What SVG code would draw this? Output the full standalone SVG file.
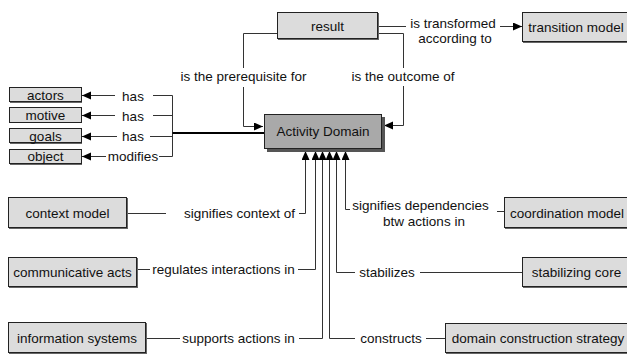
<svg xmlns="http://www.w3.org/2000/svg" width="627" height="354" viewBox="0 0 627 354">
  <style>
    .box { fill: #dcdcdc; stroke: #222; stroke-width: 1; }
    .shadow { fill: #666; }
    .core { fill: #a9a9a9; stroke: #222; stroke-width: 1; }
    .coreShadow { fill: #555; }
    text { font-family: "Liberation Sans", Arial, sans-serif; font-size: 13.5px; fill: #111; }
    .mid { text-anchor: middle; }
    .ln { fill: none; stroke: #333; stroke-width: 1; }
    .arr { fill: none; stroke: #333; stroke-width: 1; marker-end: url(#tip); }
    .bold { fill: none; stroke: #000; stroke-width: 2; }
  </style>
  <defs>
    <marker id="tip" markerUnits="userSpaceOnUse" markerWidth="10" markerHeight="10" refX="9" refY="4" orient="auto">
      <path d="M0,0 L9,4 L0,8 Z" fill="#000"/>
    </marker>
  </defs>
  <rect width="627" height="354" fill="#fff"/>

  <!-- connectors -->
  <g id="connectors">
    <!-- result -> transition model -->
    <path class="ln" d="M378.5,26.5 H406"/>
    <path class="arr" d="M500,26.5 H522"/>
    <!-- result -> Activity Domain (outcome) -->
    <path class="ln" d="M378.5,33.5 H403.5 V68"/>
    <path class="arr" d="M403.5,86 V125.5 H384"/>
    <!-- result -> Activity Domain (prerequisite) -->
    <path class="ln" d="M277,33.5 H243.5 V68"/>
    <path class="arr" d="M243.5,87 V126.5 H263"/>
    <!-- attribute bus -->
    <path class="arr" d="M115,95.5 H82"/>
    <path class="arr" d="M115,115.5 H82"/>
    <path class="arr" d="M117,136.5 H82"/>
    <path class="arr" d="M106,156.5 H82"/>
    <path class="ln" d="M153,95.5 H172.5 V156.5 H159 M153,115.5 H172.5 M150,136.5 H172.5"/>
    <path class="bold" d="M172.5,133 H264"/>
    <!-- lower left -->
    <path class="ln" d="M127,213.5 H166"/>
    <path class="arr" d="M299,213.5 H305.5 V151"/>
    <path class="ln" d="M137,269.5 H150"/>
    <path class="arr" d="M298,269.5 H315.5 V151"/>
    <path class="ln" d="M146,338.5 H180"/>
    <path class="arr" d="M299,338.5 H322.5 V151"/>
    <!-- lower right -->
    <path class="arr" d="M355,338.5 H329.5 V151"/>
    <path class="ln" d="M426,338.5 H445"/>
    <path class="arr" d="M355,272.5 H336.5 V151"/>
    <path class="ln" d="M420,272.5 H522"/>
    <path class="arr" d="M350,209.5 H345.5 V151"/>
    <path class="ln" d="M497,211.5 H504"/>
  </g>

  <!-- connector labels -->
  <g id="labels">
    <text class="mid" x="453" y="27.5">is transformed</text>
    <text class="mid" x="455" y="43">according to</text>
    <text class="mid" x="403" y="81">is the outcome of</text>
    <text class="mid" x="243.5" y="81">is the prerequisite for</text>
    <text class="mid" x="133" y="100.5">has</text>
    <text class="mid" x="133" y="120.5">has</text>
    <text class="mid" x="133" y="141">has</text>
    <text class="mid" x="133" y="161">modifies</text>
    <text class="mid" x="239.5" y="218">signifies context of</text>
    <text class="mid" x="223.5" y="274">regulates interactions in</text>
    <text class="mid" x="238.5" y="343">supports actions in</text>
    <text class="mid" x="391" y="343">constructs</text>
    <text class="mid" x="387" y="277">stabilizes</text>
    <text class="mid" x="420.5" y="210">signifies dependencies</text>
    <text class="mid" x="424" y="226">btw actions in</text>
  </g>

  <g id="activity-domain">
    <rect class="coreShadow" x="267" y="117" width="118" height="35"/>
    <rect class="core" x="264.5" y="114.5" width="117" height="34"/>
    <text class="mid" x="323" y="136">Activity Domain</text>
  </g>

  <g id="result">
    <rect class="shadow" x="278" y="13" width="101" height="27"/>
    <rect class="box" x="277.5" y="12.5" width="100" height="26"/>
    <text class="mid" x="327.5" y="30.5">result</text>
  </g>

  <g id="transition-model">
    <rect class="shadow" x="523" y="13" width="110" height="30"/>
    <rect class="box" x="522.5" y="12.5" width="110" height="29"/>
    <text class="mid" x="576" y="31.5">transition model</text>
  </g>

  <g id="actors">
    <rect class="shadow" x="10" y="88" width="72" height="15"/>
    <rect class="box" x="9.5" y="87.5" width="72" height="14"/>
    <text class="mid" x="45.5" y="99.5">actors</text>
  </g>
  <g id="motive">
    <rect class="shadow" x="10" y="108" width="72" height="15"/>
    <rect class="box" x="9.5" y="107.5" width="72" height="15"/>
    <text class="mid" x="45.5" y="120">motive</text>
  </g>
  <g id="goals">
    <rect class="shadow" x="10" y="129" width="72" height="15"/>
    <rect class="box" x="9.5" y="128.5" width="72" height="14"/>
    <text class="mid" x="45.5" y="140.5">goals</text>
  </g>
  <g id="object">
    <rect class="shadow" x="10" y="150" width="72" height="15"/>
    <rect class="box" x="9.5" y="149.5" width="72" height="14"/>
    <text class="mid" x="45.5" y="161">object</text>
  </g>

  <g id="context-model">
    <rect class="shadow" x="9" y="198" width="119" height="31"/>
    <rect class="box" x="8.5" y="197.5" width="118" height="30"/>
    <text class="mid" x="67.5" y="217.5">context model</text>
  </g>
  <g id="communicative-acts">
    <rect class="shadow" x="9" y="258" width="129" height="30"/>
    <rect class="box" x="8.5" y="257.5" width="128" height="29"/>
    <text class="mid" x="72.5" y="277">communicative acts</text>
  </g>
  <g id="information-systems">
    <rect class="shadow" x="9" y="323" width="138" height="31"/>
    <rect class="box" x="8.5" y="322.5" width="137" height="30"/>
    <text class="mid" x="77" y="342.5">information systems</text>
  </g>

  <g id="coordination-model">
    <rect class="shadow" x="505" y="198" width="126" height="31"/>
    <rect class="box" x="504.5" y="197.5" width="126" height="30"/>
    <text class="mid" x="567" y="217.5">coordination model</text>
  </g>
  <g id="stabilizing-core">
    <rect class="shadow" x="523" y="258" width="110" height="30"/>
    <rect class="box" x="522.5" y="257.5" width="110" height="29"/>
    <text class="mid" x="576.5" y="277">stabilizing core</text>
  </g>
  <g id="domain-construction-strategy">
    <rect class="shadow" x="446" y="324" width="186" height="30"/>
    <rect class="box" x="445.5" y="323.5" width="186" height="29"/>
    <text class="mid" x="538" y="343">domain construction strategy</text>
  </g>
</svg>
